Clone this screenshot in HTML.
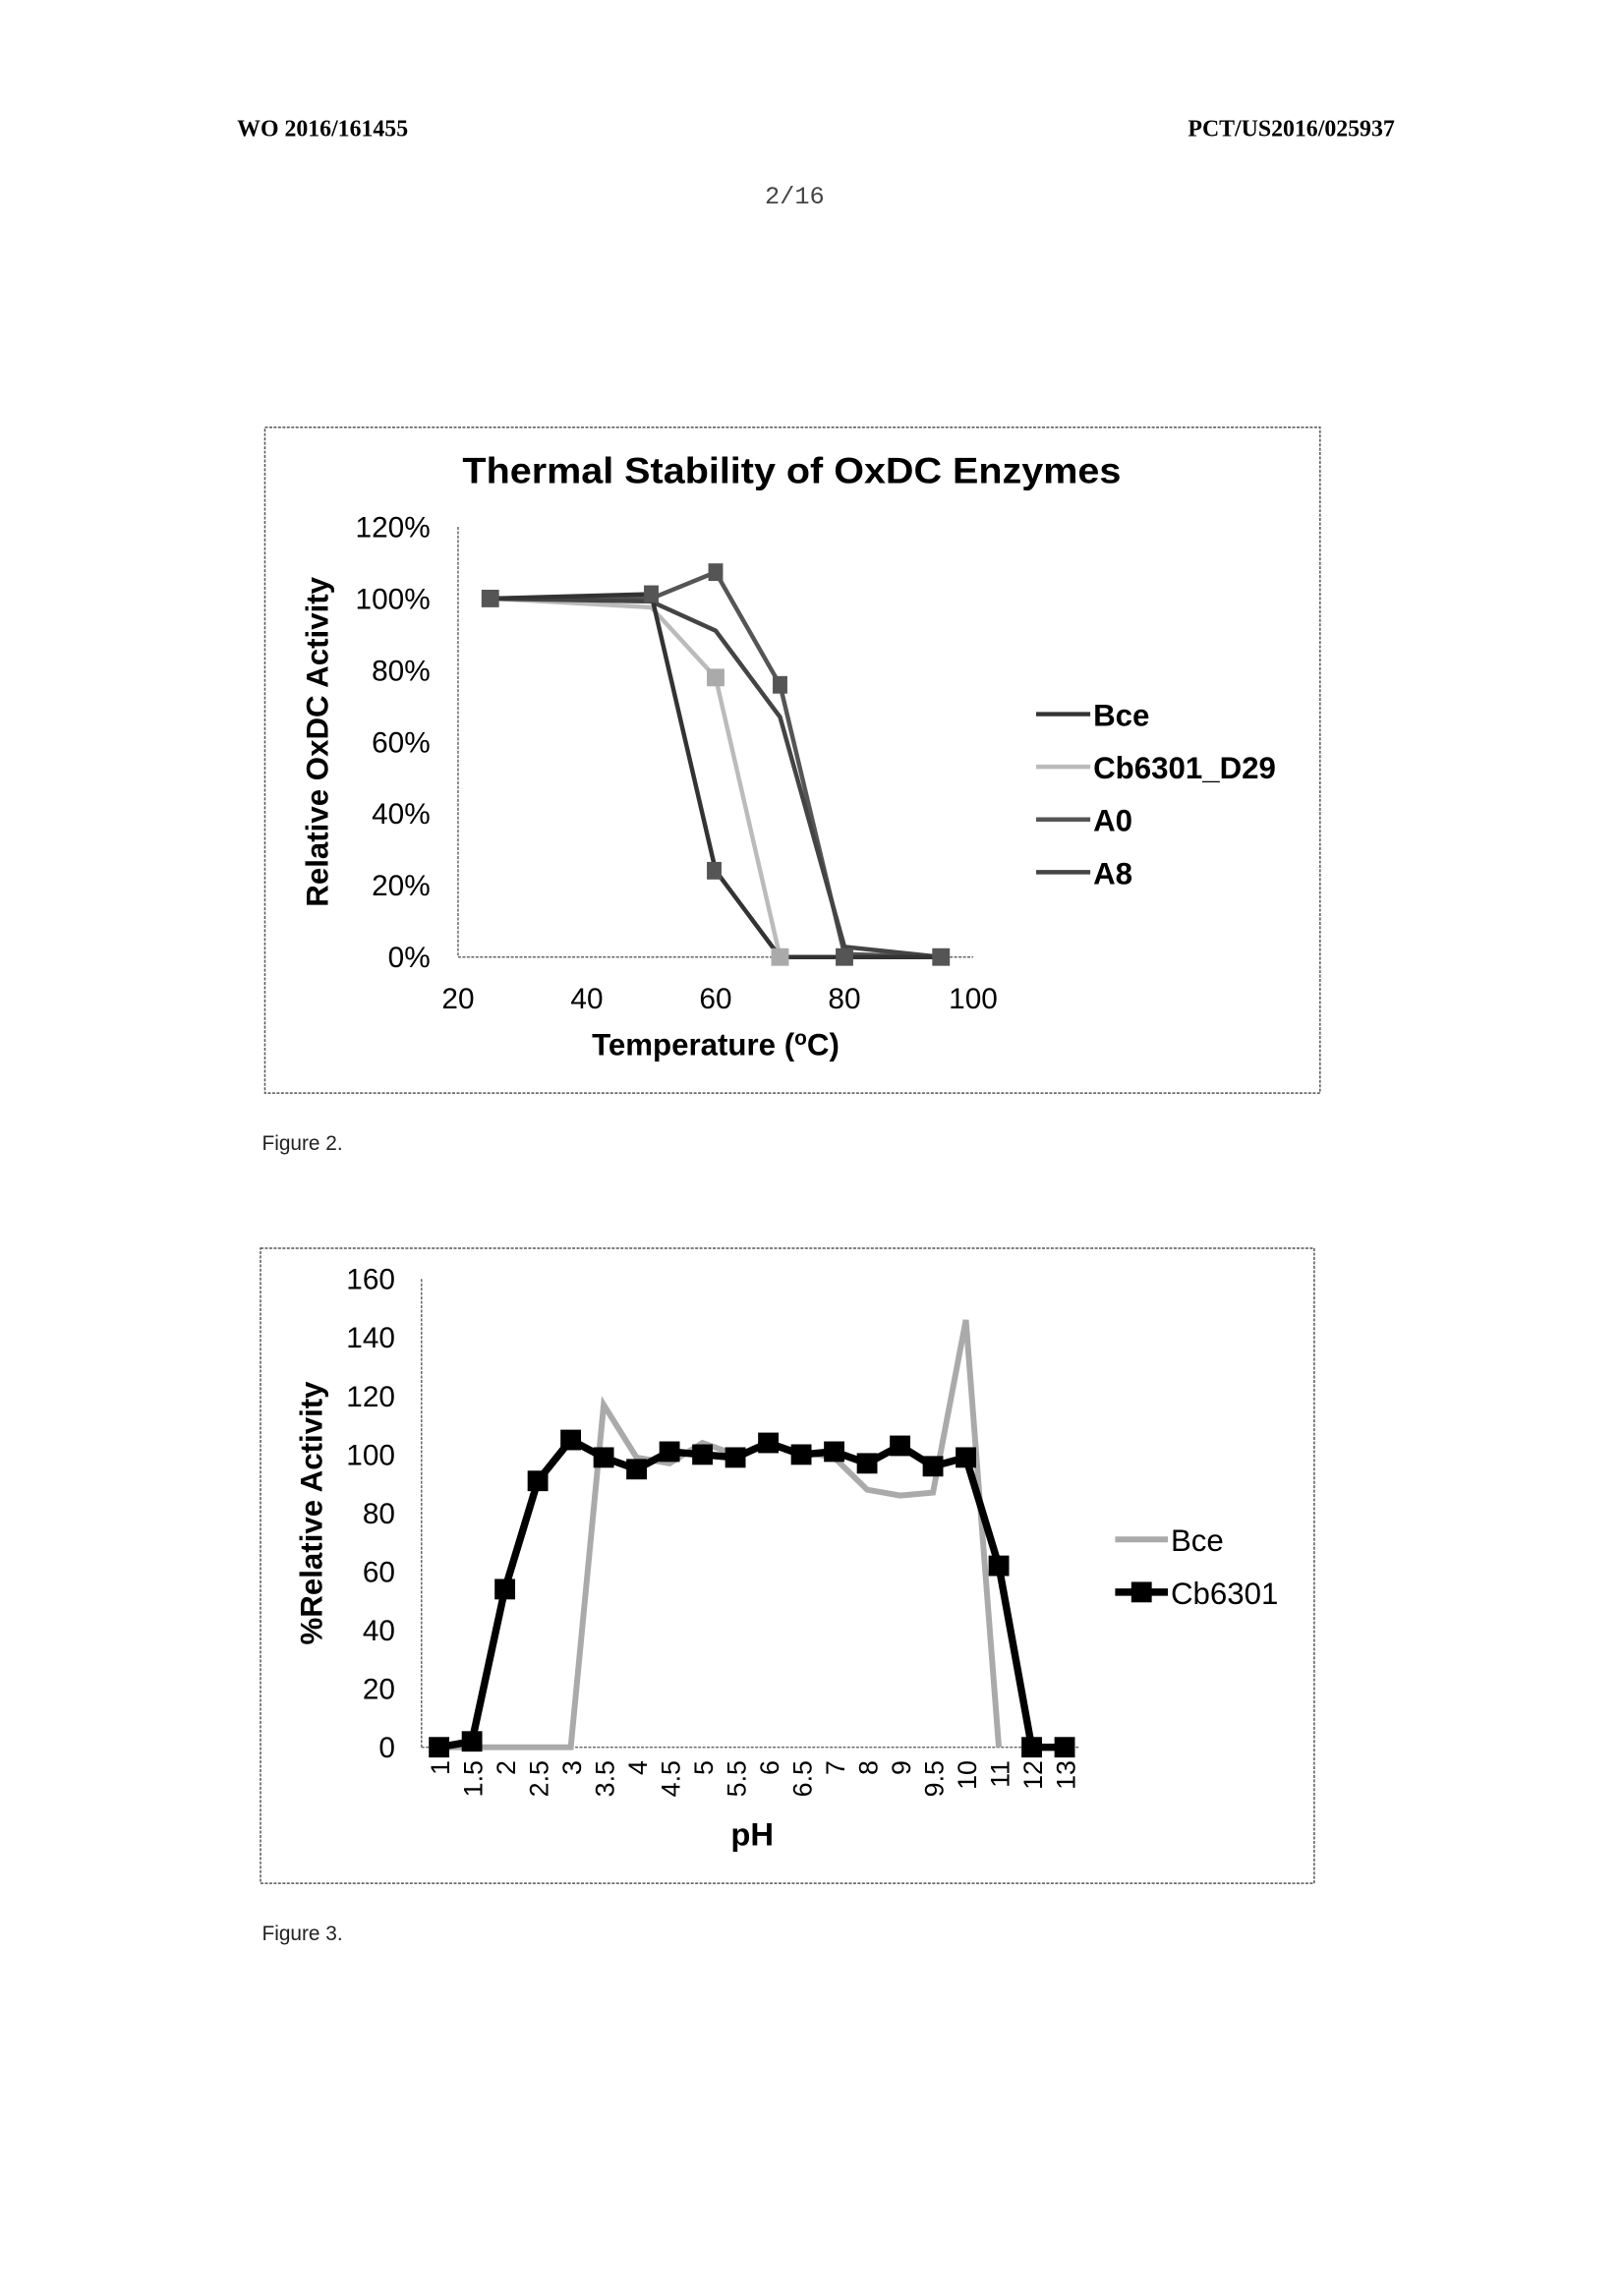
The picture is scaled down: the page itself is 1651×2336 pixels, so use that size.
<!DOCTYPE html>
<html><head><meta charset="utf-8"><style>html,body{margin:0;padding:0;background:#fff}svg{display:block}</style></head>
<body>
<svg width="1651" height="2336" viewBox="0 0 1109 1569" preserveAspectRatio="none" xmlns="http://www.w3.org/2000/svg" font-family="Liberation Sans, sans-serif">
<rect width="1109" height="1569" fill="#fff"/>
<text x="162" y="93" font-family="Liberation Serif, serif" font-weight="bold" font-size="16">WO 2016/161455</text>
<text x="953" y="93" text-anchor="end" font-family="Liberation Serif, serif" font-weight="bold" font-size="16">PCT/US2016/025937</text>
<text x="543" y="139" text-anchor="middle" font-family="Liberation Mono, monospace" font-size="17" fill="#444">2/16</text>

<!-- Chart 1 -->
<rect x="181" y="292" width="721" height="455" fill="none" stroke="#555" stroke-width="1" stroke-dasharray="2,1"/>
<text x="541" y="330" text-anchor="middle" font-weight="bold" font-size="25" textLength="450" lengthAdjust="spacingAndGlyphs">Thermal Stability of OxDC Enzymes</text>
<g stroke="#666" stroke-width="1" stroke-dasharray="2,1">
<line x1="313" y1="360" x2="313" y2="654"/><line x1="313" y1="654" x2="665" y2="654"/>
</g>
<g font-size="20" text-anchor="end">
<text x="294" y="661">0%</text><text x="294" y="612">20%</text><text x="294" y="563">40%</text><text x="294" y="514">60%</text><text x="294" y="465">80%</text><text x="294" y="416">100%</text><text x="294" y="367">120%</text>
</g>
<g font-size="20" text-anchor="middle">
<text x="313" y="689">20</text><text x="401" y="689">40</text><text x="489" y="689">60</text><text x="577" y="689">80</text><text x="665" y="689">100</text>
</g>
<text x="489" y="721" text-anchor="middle" font-weight="bold" font-size="21">Temperature (<tspan font-size="14" dy="-7">o</tspan><tspan dy="7">C)</tspan></text>
<text transform="translate(224,507) rotate(-90)" text-anchor="middle" font-weight="bold" font-size="21">Relative OxDC Activity</text>
<g fill="none" stroke-width="3">
<polyline stroke="#bbb" points="335,409 445,415 489,463 533,654 577,654 643,654"/>
<polyline stroke="#555" points="335,409 445,409 489,391 533,468 577,652 643,654"/>
<polyline stroke="#444" points="335,409 445,411 489,431 533,490 577,647 643,654"/>
<polyline stroke="#333" points="335,409 445,406 489,595 533,654 577,654 643,654"/>
</g>
<g fill="#555">
<rect x="329" y="403" width="12" height="12"/><rect x="483" y="457" width="12" height="12" fill="#aaa"/>
<rect x="527" y="648" width="12" height="12" fill="#aaa"/><rect x="571" y="648" width="12" height="12"/><rect x="637" y="648" width="12" height="12"/>
<rect x="483" y="589" width="10" height="12"/><rect x="528" y="462" width="10" height="12"/><rect x="484" y="385" width="10" height="12"/><rect x="440" y="400" width="10" height="12"/>
</g>
<g font-size="21" font-weight="bold">
<line x1="708" y1="488" x2="745" y2="488" stroke="#333" stroke-width="3"/><text x="747" y="496">Bce</text>
<line x1="708" y1="524" x2="745" y2="524" stroke="#bbb" stroke-width="3"/><text x="747" y="532">Cb6301_D29</text>
<line x1="708" y1="560" x2="745" y2="560" stroke="#555" stroke-width="3"/><text x="747" y="568">A0</text>
<line x1="708" y1="596" x2="745" y2="596" stroke="#444" stroke-width="3"/><text x="747" y="604">A8</text>
</g>
<text x="179" y="786" font-size="14" fill="#222">Figure 2.</text>

<!-- Chart 2 -->
<rect x="178" y="853" width="720" height="434" fill="none" stroke="#555" stroke-width="1" stroke-dasharray="2,1"/>
<g stroke="#666" stroke-width="1" stroke-dasharray="2,1">
<line x1="288" y1="874" x2="288" y2="1194"/><line x1="288" y1="1194" x2="738" y2="1194"/>
</g>
<g font-size="20" text-anchor="end">
<text x="270" y="1201">0</text><text x="270" y="1161">20</text><text x="270" y="1121">40</text><text x="270" y="1081">60</text><text x="270" y="1041">80</text><text x="270" y="1001">100</text><text x="270" y="961">120</text><text x="270" y="921">140</text><text x="270" y="881">160</text>
</g>
<g font-size="18" text-anchor="end">
<text transform="translate(307,1203) rotate(-90)">1</text>
<text transform="translate(329.5,1203) rotate(-90)">1.5</text>
<text transform="translate(352,1203) rotate(-90)">2</text>
<text transform="translate(374.5,1203) rotate(-90)">2.5</text>
<text transform="translate(397,1203) rotate(-90)">3</text>
<text transform="translate(419.5,1203) rotate(-90)">3.5</text>
<text transform="translate(442,1203) rotate(-90)">4</text>
<text transform="translate(464.5,1203) rotate(-90)">4.5</text>
<text transform="translate(487,1203) rotate(-90)">5</text>
<text transform="translate(509.5,1203) rotate(-90)">5.5</text>
<text transform="translate(532,1203) rotate(-90)">6</text>
<text transform="translate(554.5,1203) rotate(-90)">6.5</text>
<text transform="translate(577,1203) rotate(-90)">7</text>
<text transform="translate(599.5,1203) rotate(-90)">8</text>
<text transform="translate(622,1203) rotate(-90)">9</text>
<text transform="translate(644.5,1203) rotate(-90)">9.5</text>
<text transform="translate(667,1203) rotate(-90)">10</text>
<text transform="translate(689.5,1203) rotate(-90)">11</text>
<text transform="translate(712,1203) rotate(-90)">12</text>
<text transform="translate(734.5,1203) rotate(-90)">13</text>
</g>
<text x="514" y="1261" text-anchor="middle" font-weight="bold" font-size="22">pH</text>
<text transform="translate(220,1034) rotate(-90)" text-anchor="middle" font-weight="bold" font-size="21">%Relative Activity</text>
<polyline fill="none" stroke="#aaa" stroke-width="4" points="300,1194 322.5,1194 345,1194 367.5,1194 390,1194 412.5,960 435,996 457.5,1000 480,986 502.5,994 525,988 547.5,992 570,996 592.5,1018 615,1022 637.5,1020 660,902 682.5,1194"/>
<polyline fill="none" stroke="#000" stroke-width="5" points="300,1194 322.5,1190 345,1086 367.5,1012 390,984 412.5,996 435,1004 457.5,992 480,994 502.5,996 525,986 547.5,994 570,992 592.5,1000 615,988 637.5,1002 660,996 682.5,1070 705,1194 727.5,1194"/>
<g fill="#000">
<rect x="293" y="1187" width="14" height="14"/><rect x="315.5" y="1183" width="14" height="14"/><rect x="338" y="1079" width="14" height="14"/><rect x="360.5" y="1005" width="14" height="14"/><rect x="383" y="977" width="14" height="14"/><rect x="405.5" y="989" width="14" height="14"/><rect x="428" y="997" width="14" height="14"/><rect x="450.5" y="985" width="14" height="14"/><rect x="473" y="987" width="14" height="14"/><rect x="495.5" y="989" width="14" height="14"/><rect x="518" y="979" width="14" height="14"/><rect x="540.5" y="987" width="14" height="14"/><rect x="563" y="985" width="14" height="14"/><rect x="585.5" y="993" width="14" height="14"/><rect x="608" y="981" width="14" height="14"/><rect x="630.5" y="995" width="14" height="14"/><rect x="653" y="989" width="14" height="14"/><rect x="675.5" y="1063" width="14" height="14"/><rect x="698" y="1187" width="14" height="14"/><rect x="720.5" y="1187" width="14" height="14"/>
</g>
<g font-size="21">
<line x1="762" y1="1052" x2="798" y2="1052" stroke="#aaa" stroke-width="4"/><text x="800" y="1060">Bce</text>
<line x1="762" y1="1088" x2="798" y2="1088" stroke="#000" stroke-width="5"/><rect x="773" y="1081" width="14" height="14"/><text x="800" y="1096">Cb6301</text>
</g>
<text x="179" y="1326" font-size="14" fill="#222">Figure 3.</text>
</svg>
</body></html>
